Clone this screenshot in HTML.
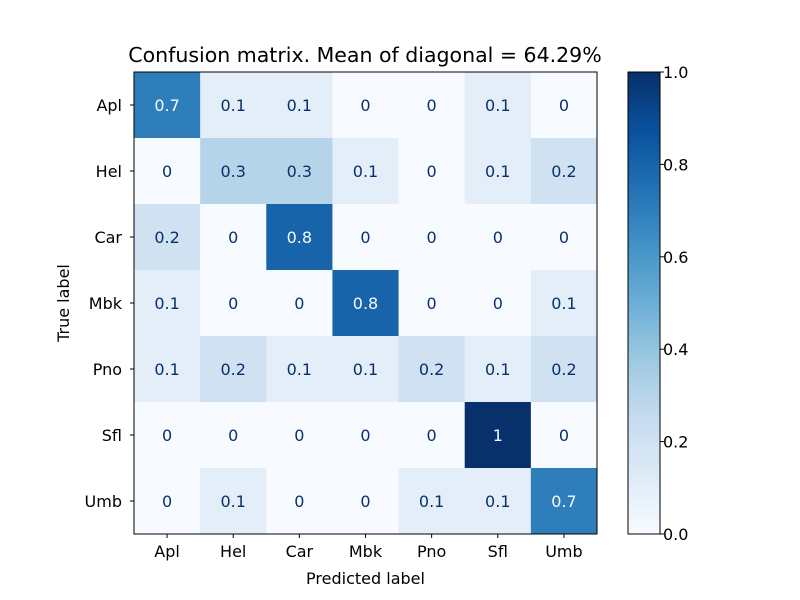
<!DOCTYPE html>
<html><head><meta charset="utf-8"><style>body{margin:0;background:#fff}svg{display:block;font-family:"DejaVu Sans","Liberation Sans",sans-serif}</style></head>
<body>
<svg id="c" width="800" height="600" viewBox="0 0 800 600"></svg>
<script>
const labels=["Apl","Hel","Car","Mbk","Pno","Sfl","Umb"];
const matrix=[
[0.7,0.1,0.1,0,0,0.1,0],
[0,0.3,0.3,0.1,0,0.1,0.2],
[0.2,0,0.8,0,0,0,0],
[0.1,0,0,0.8,0,0,0.1],
[0.1,0.2,0.1,0.1,0.2,0.1,0.2],
[0,0,0,0,0,1,0],
[0,0.1,0,0,0.1,0.1,0.7]];
const cbTicks=[0,0.2,0.4,0.6,0.8,1.0];
const titleText="Confusion matrix. Mean of diagonal = 64.29%";
const stops=["#f7fbff","#deebf7","#c6dbef","#9ecae1","#6baed6","#4292c6","#2171b5","#08519c","#08306b"];
function hex(h){return [1,3,5].map(i=>parseInt(h.substr(i,2),16));}
function blues(v){v=Math.max(0,Math.min(1,v));const p=v*8,i=Math.min(7,Math.floor(p)),f=p-i;const a=hex(stops[i]),b=hex(stops[i+1]);return "rgb("+a.map((x,k)=>Math.round(x+(b[k]-x)*f)).join(",")+")";}
const NS="http://www.w3.org/2000/svg",svg=document.getElementById("c");
function el(t,at,txt){const e=document.createElementNS(NS,t);for(const k in at)e.setAttribute(k,at[k]);if(txt!==undefined)e.textContent=txt;svg.appendChild(e);return e;}
const X0=134,Y0=72,W=463,H=462,n=labels.length,cw=W/n,ch=H/n;
const xs=j=>X0+j*cw, ys=i=>Y0+i*ch;
const FS=16;
matrix.forEach((row,i)=>row.forEach((v,j)=>{
 const r=el("rect",{x:xs(j),y:ys(i),width:cw+0.5,height:ch+0.5,fill:blues(v)});
 
 
 const t=el("text",{x:xs(j)+cw/2,y:ys(i)+ch/2+6,"text-anchor":"middle","font-size":FS,fill:v>0.5?"#f7fbff":"#08306b"},String(v));
 
 
}));
const fr=el("rect",{x:X0,y:Y0,width:W,height:H,fill:"none",stroke:"#000","stroke-width":1});


labels.forEach((l,j)=>{
 const cx=xs(j)+cw/2;
 el("line",{x1:cx,y1:Y0+H,x2:cx,y2:Y0+H+4,stroke:"#000"});
 const t=el("text",{x:cx,y:Y0+H+23,"text-anchor":"middle","font-size":FS},l);
 
 
 const cy=ys(j)+ch/2;
 el("line",{x1:X0-4,y1:cy,x2:X0,y2:cy,stroke:"#000"});
 const t2=el("text",{x:X0-12,y:cy+6,"text-anchor":"end","font-size":FS},l);
 
 
});
const xt=el("text",{x:X0+W/2,y:584,"text-anchor":"middle","font-size":FS},"Predicted label");


const yt=el("text",{x:69,y:Y0+H/2,"text-anchor":"middle","font-size":FS,transform:"rotate(-90 69 "+(Y0+H/2)+")"},"True label");


const tt=el("text",{x:365,y:62,"text-anchor":"middle","font-size":"20.5"},titleText);


const CX=628,CW=32;
const defs=el("defs",{});
const g=document.createElementNS(NS,"linearGradient");g.setAttribute("id","gb");g.setAttribute("x1","0");g.setAttribute("y1","1");g.setAttribute("x2","0");g.setAttribute("y2","0");
stops.forEach((s,k)=>{const st=document.createElementNS(NS,"stop");st.setAttribute("offset",k/8);st.setAttribute("stop-color",s);g.appendChild(st);});
defs.appendChild(g);
const cb=el("rect",{x:CX,y:Y0,width:CW,height:H,fill:"url(#gb)",stroke:"#000","stroke-width":1});


const cbY=v=>Y0+H-v*H;
cbTicks.forEach(v=>{
 el("line",{x1:CX+CW,y1:cbY(v),x2:CX+CW+4,y2:cbY(v),stroke:"#000"});
 const t=el("text",{x:CX+CW+3,y:cbY(v)+6,"font-size":FS},v.toFixed(1));
 
 
});
</script>
</body></html>
